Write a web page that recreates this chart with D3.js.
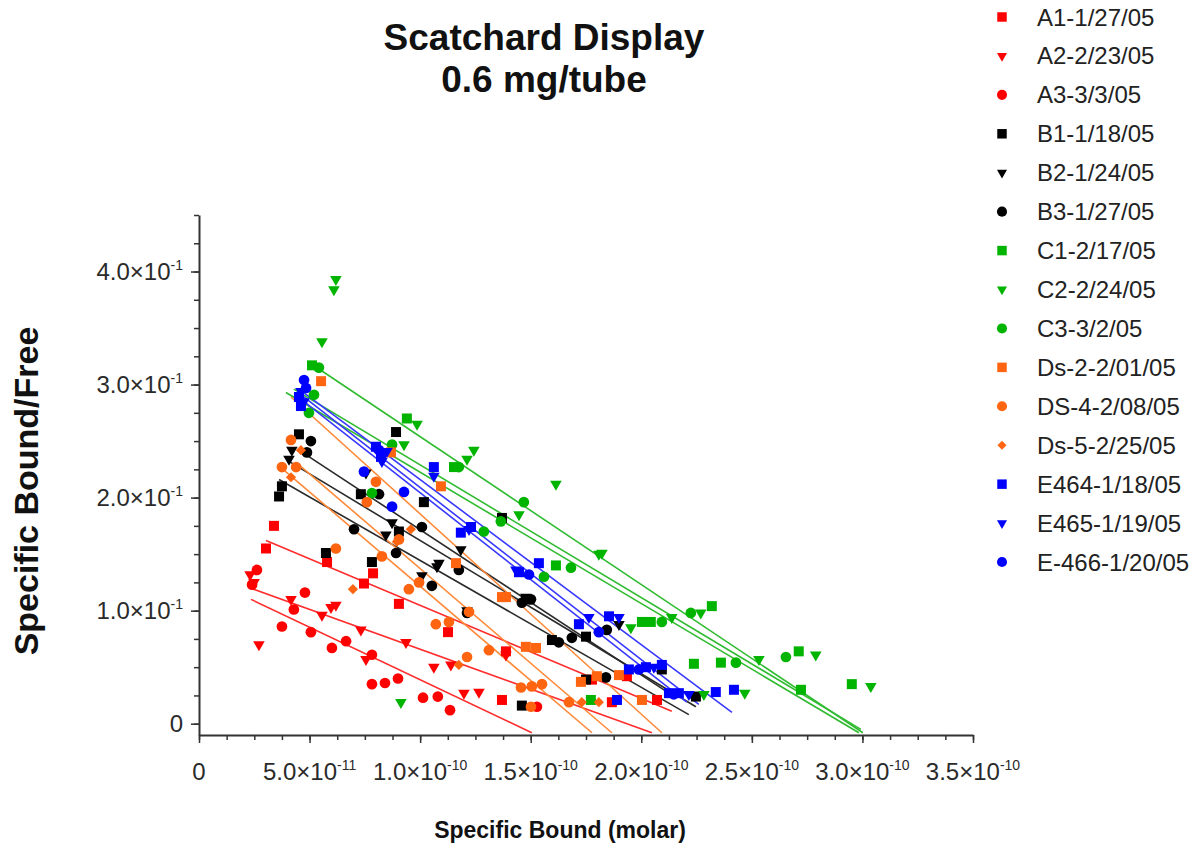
<!DOCTYPE html>
<html>
<head>
<meta charset="utf-8">
<script src="https://cdn.jsdelivr.net/npm/d3@7/dist/d3.min.js"></script>
<style>
  body { margin: 0; background: #fff; }
  svg { display: block; font-family: "Liberation Sans", Arial, sans-serif; }
</style>
</head>
<body>
<svg id="chart" width="1196" height="846"></svg>
<script>
// Scatchard display: bound/free vs specific bound, one linear fit per run.
// Specific bound values are stored in units of 1e-11 M.
const BOUND_UNIT = 1e-11;

const A1 = [[3.03,0.155],[3.39,0.175],[5.79,0.143],[7.46,0.124],[7.87,0.133],[9.04,0.106],[11.26,0.081],[13.70,0.021],[13.88,0.064],[17.77,0.039],[18.67,0.019],[19.35,0.042],[20.71,0.021]];
const A2 = [[2.31,0.132],[2.49,0.125],[2.71,0.070],[4.16,0.110],[5.56,0.096],[5.97,0.103],[6.19,0.105],[7.32,0.083],[7.55,0.057],[9.36,0.072],[10.62,0.050],[11.39,0.052],[11.98,0.027],[12.66,0.028],[13.88,0.061]];
const A3 = [[2.40,0.123],[2.62,0.136],[3.75,0.086],[4.29,0.101],[4.79,0.116],[5.06,0.081],[6.01,0.067],[6.65,0.073],[7.82,0.061],[7.82,0.035],[8.41,0.036],[9.00,0.040],[10.13,0.023],[10.80,0.024],[11.35,0.012],[15.28,0.015]];
const B1 = [[3.62,0.201],[3.75,0.210],[4.52,0.256],[5.74,0.151],[7.32,0.203],[7.82,0.143],[8.91,0.258],[9.04,0.170],[10.17,0.196],[13.70,0.182],[14.60,0.016],[14.78,0.110],[15.96,0.074],[17.50,0.077],[17.50,0.039],[20.93,0.048],[22.47,0.024]];
const B2 = [[4.07,0.234],[4.20,0.242],[7.55,0.222],[8.45,0.167],[8.73,0.178],[10.08,0.131],[10.76,0.139],[10.85,0.142],[11.84,0.154],[12.12,0.100],[14.78,0.112],[18.99,0.088]];
const B3 = [[4.88,0.240],[5.06,0.250],[7.01,0.172],[8.14,0.203],[8.91,0.151],[10.08,0.174],[10.53,0.122],[11.75,0.136],[12.12,0.098],[14.60,0.107],[15.01,0.110],[16.27,0.072],[16.86,0.076],[18.44,0.083],[18.40,0.041]];
const C1 = [[5.11,0.317],[9.40,0.270],[11.53,0.227],[16.14,0.140],[17.72,0.021],[20.03,0.090],[20.43,0.090],[22.38,0.053],[23.19,0.104],[23.60,0.054],[27.12,0.064],[27.22,0.030],[29.52,0.035]];
const C2 = [[5.56,0.338],[6.10,0.384],[6.19,0.393],[9.13,0.019],[9.27,0.247],[9.86,0.265],[12.12,0.234],[12.43,0.242],[14.47,0.185],[16.14,0.212],[18.08,0.150],[18.22,0.151],[19.53,0.085],[21.38,0.094],[22.69,0.098],[22.83,0.026],[24.68,0.027],[25.32,0.057],[27.89,0.061],[30.38,0.033]];
const C3 = [[4.97,0.275],[5.20,0.291],[5.42,0.315],[7.82,0.204],[8.73,0.247],[11.75,0.227],[12.88,0.170],[13.65,0.179],[14.69,0.196],[15.60,0.130],[16.82,0.138],[20.93,0.090],[22.24,0.098],[24.28,0.054],[26.54,0.059]];
const DS2 = [[5.52,0.303],[8.68,0.240],[10.94,0.210],[11.62,0.142],[13.70,0.112],[13.88,0.112],[14.78,0.068],[15.24,0.067],[17.27,0.037],[17.99,0.042],[18.99,0.043],[20.03,0.021]];
const DS4 = [[3.75,0.227],[4.16,0.251],[4.39,0.227],[6.19,0.155],[7.59,0.196],[8.00,0.214],[8.27,0.148],[9.04,0.163],[9.49,0.119],[9.95,0.125],[10.71,0.088],[11.30,0.090],[12.21,0.099],[12.12,0.059],[13.11,0.065],[14.56,0.032],[15.05,0.033],[15.51,0.035],[15.01,0.015],[16.73,0.019]];
const DS5 = [[4.16,0.218],[4.61,0.242],[6.96,0.119],[8.95,0.161],[9.58,0.172],[11.75,0.052],[17.31,0.019],[18.08,0.019]];
const E464 = [[4.52,0.289],[4.61,0.281],[8.00,0.245],[8.23,0.236],[10.62,0.227],[11.84,0.169],[12.30,0.174],[14.47,0.134],[15.37,0.142],[17.18,0.088],[18.54,0.095],[18.90,0.021],[19.44,0.048],[20.21,0.050],[20.93,0.052],[21.25,0.027],[21.70,0.027],[23.37,0.028],[24.19,0.030]];
const E465 = [[4.61,0.294],[4.75,0.285],[8.27,0.232],[8.50,0.241],[10.62,0.219],[12.21,0.172],[14.33,0.136],[17.63,0.094],[18.99,0.094],[20.57,0.050],[22.15,0.026]];
const E466 = [[4.75,0.304],[4.84,0.297],[7.46,0.223],[8.14,0.242],[8.73,0.192],[9.27,0.205],[14.92,0.132],[18.08,0.081],[19.89,0.048],[21.47,0.026]];

// Linear fit segments (start and end point) per run
const fitA1 = [[3.03,0.162],[21.38,0.011]];
const fitA2 = [[2.31,0.120],[20.48,-0.008]];
const fitA3 = [[2.35,0.110],[15.05,-0.008]];
const fitB1 = [[3.62,0.216],[22.15,0.008]];
const fitB2 = [[4.07,0.232],[22.47,0.015]];
const fitB3 = [[4.52,0.242],[21.25,0.027]];
const fitC1 = [[4.29,0.296],[29.93,-0.005]];
const fitC2 = [[5.56,0.312],[30.02,-0.008]];
const fitC3 = [[3.93,0.293],[29.84,-0.008]];
const fitDS2 = [[4.16,0.289],[20.93,-0.008]];
const fitDS4 = [[3.80,0.225],[17.77,-0.008]];
const fitDS5 = [[4.52,0.229],[18.67,-0.008]];
const fitE464 = [[4.52,0.296],[24.10,0.010]];
const fitE465 = [[4.61,0.291],[22.60,0.017]];
const fitE466 = [[4.75,0.285],[22.06,0.019]];

const seriesNames = ["A1-1/27/05","A2-2/23/05","A3-3/3/05","B1-1/18/05","B2-1/24/05","B3-1/27/05",
  "C1-2/17/05","C2-2/24/05","C3-3/2/05","Ds-2-2/01/05","DS-4-2/08/05","Ds-5-2/25/05",
  "E464-1/18/05","E465-1/19/05","E-466-1/20/05"];
const seriesPoints = [A1, A2, A3, B1, B2, B3, C1, C2, C3, DS2, DS4, DS5, E464, E465, E466];
const seriesFits = [fitA1, fitA2, fitA3, fitB1, fitB2, fitB3, fitC1, fitC2, fitC3, fitDS2, fitDS4, fitDS5, fitE464, fitE465, fitE466];
const seriesShapes = ["square","triangle","circle","square","triangle","circle","square","triangle","circle",
  "square","circle","diamond","square","triangle","circle"];
const seriesColors = ["#ff0000","#ff0000","#ff0000","#000000","#000000","#000000","#00b400","#00b400","#00b400",
  "#ff6410","#ff6410","#ff6410","#0000ff","#0000ff","#0000ff"];
const fitColors = ["#ff2d2d","#ff2d2d","#ff2d2d","#2a2a2a","#2a2a2a","#2a2a2a","#30bb30","#30bb30","#30bb30",
  "#ff8a3a","#ff8a3a","#ff8a3a","#3838ff","#3838ff","#3838ff"];

// Axis ticks and their labels (mantissa × 10^exponent)
const xTickValues = [0, 5e-11, 1e-10, 1.5e-10, 2e-10, 2.5e-10, 3e-10, 3.5e-10];
const xTickMantissa = ["0","5.0","1.0","1.5","2.0","2.5","3.0","3.5"];
const xTickExponent = ["","-11","-10","-10","-10","-10","-10","-10"];
const yTickValues = [0, 0.1, 0.2, 0.3, 0.4];
const yTickMantissa = ["0","1.0","2.0","3.0","4.0"];
const yTickExponent = ["","-1","-1","-1","-1"];

const svg = d3.select("#chart");
const x = d3.scaleLinear().domain([0, 3.5e-10]).range([199, 973]);
const y = d3.scaleLinear().domain([-0.01, 0.45]).range([735, 215]);
const px = d => x(d[0] * BOUND_UNIT);
const py = d => y(d[1]);

// Titles
svg.append("text").attr("x", 544).attr("y", 50).attr("text-anchor", "middle")
  .attr("font-size", 37).attr("font-weight", "bold").attr("fill", "#111").text("Scatchard Display");
svg.append("text").attr("x", 544).attr("y", 92).attr("text-anchor", "middle")
  .attr("font-size", 37).attr("font-weight", "bold").attr("fill", "#111").text("0.6 mg/tube");
svg.append("text").attr("transform", "translate(38,491) rotate(-90)").attr("text-anchor", "middle")
  .attr("font-size", 34).attr("font-weight", "bold").attr("fill", "#111").text("Specific Bound/Free");
svg.append("text").attr("x", 560).attr("y", 838).attr("text-anchor", "middle")
  .attr("font-size", 23).attr("font-weight", "bold").attr("fill", "#111").text("Specific Bound (molar)");

// Axes
const axisColor = "#333";
const xMinor = d3.range(0, 29).map(i => i * 1.25e-11);
const yMinor = d3.range(0, 19).map(i => i * 0.025);

const gx = svg.append("g").attr("transform", `translate(0,${y.range()[0]})`);
gx.call(d3.axisBottom(x).tickValues(xMinor).tickSize(5).tickSizeOuter(0).tickFormat(""));
gx.append("g").call(d3.axisBottom(x).tickValues(xTickValues).tickSize(8).tickSizeOuter(0).tickFormat(""))
  .select(".domain").remove();
gx.selectAll("path.domain").attr("stroke", axisColor).attr("stroke-width", 2.2);
gx.selectAll(".tick line").attr("stroke", axisColor).attr("stroke-width", 1.5);

const gy = svg.append("g").attr("transform", `translate(${x.range()[0]},0)`);
gy.call(d3.axisLeft(y).tickValues(yMinor).tickSize(5).tickSizeOuter(0).tickFormat(""));
gy.append("g").call(d3.axisLeft(y).tickValues(yTickValues).tickSize(8).tickSizeOuter(0).tickFormat(""))
  .select(".domain").remove();
gy.selectAll("path.domain").attr("stroke", axisColor).attr("stroke-width", 2);
gy.selectAll(".tick line").attr("stroke", axisColor).attr("stroke-width", 1.5);

function sciLabel(sel, mant, exp) {
  sel.append("tspan").text(mant === "0" ? "0" : mant + "\u00d710");
  if (exp) sel.append("tspan").attr("font-size", 14).attr("dy", -10).text(exp);
}
xTickValues.forEach((v, i) => {
  const t = svg.append("text").attr("x", x(v)).attr("y", 780).attr("text-anchor", "middle")
    .attr("font-size", 24).attr("fill", "#2a2a2a");
  sciLabel(t, xTickMantissa[i], xTickExponent[i]);
});
yTickValues.forEach((v, i) => {
  const t = svg.append("text").attr("x", 183).attr("y", y(v) + 8.5).attr("text-anchor", "end")
    .attr("font-size", 24).attr("fill", "#2a2a2a");
  sciLabel(t, yTickMantissa[i], yTickExponent[i]);
});

// Plot area clip
svg.append("clipPath").attr("id", "plotClip").append("rect")
  .attr("x", x.range()[0]).attr("y", y.range()[1])
  .attr("width", x.range()[1] - x.range()[0]).attr("height", y.range()[0] - y.range()[1]);

const symbolPath = {
  square: d3.symbol().type(d3.symbolSquare).size(100)(),
  triangle: d3.symbol().type(d3.symbolTriangle).size(58)(),
  circle: d3.symbol().type(d3.symbolCircle).size(90)(),
  diamond: d3.symbol().type(d3.symbolSquare).size(52)()
};
const legendPath = {
  square: d3.symbol().type(d3.symbolSquare).size(90)(),
  triangle: d3.symbol().type(d3.symbolTriangle).size(44)(),
  circle: d3.symbol().type(d3.symbolCircle).size(80)(),
  diamond: d3.symbol().type(d3.symbolSquare).size(40)()
};
const rot = s => s === "triangle" ? " rotate(180)" : (s === "diamond" ? " rotate(45)" : "");

const plot = svg.append("g").attr("clip-path", "url(#plotClip)");
const line = d3.line().x(px).y(py);

seriesPoints.forEach((pts, i) => {
  plot.append("path").datum(seriesFits[i]).attr("d", line)
    .attr("fill", "none").attr("stroke", fitColors[i]).attr("stroke-width", 1.6);
});
seriesPoints.forEach((pts, i) => {
  plot.append("g").selectAll("path").data(pts).join("path")
    .attr("d", symbolPath[seriesShapes[i]])
    .attr("transform", d => `translate(${px(d)},${py(d)})${rot(seriesShapes[i])}`)
    .attr("fill", seriesColors[i]);
});

// Legend
const legend = svg.append("g");
seriesNames.forEach((name, i) => {
  const cy = 17 + i * 38.93;
  legend.append("path").attr("d", legendPath[seriesShapes[i]])
    .attr("transform", `translate(1002,${cy})${rot(seriesShapes[i])}`)
    .attr("fill", seriesColors[i]);
  legend.append("text").attr("x", 1037).attr("y", cy + 8.5)
    .attr("font-size", 24).attr("fill", "#222").text(name);
});
</script>
</body>
</html>
